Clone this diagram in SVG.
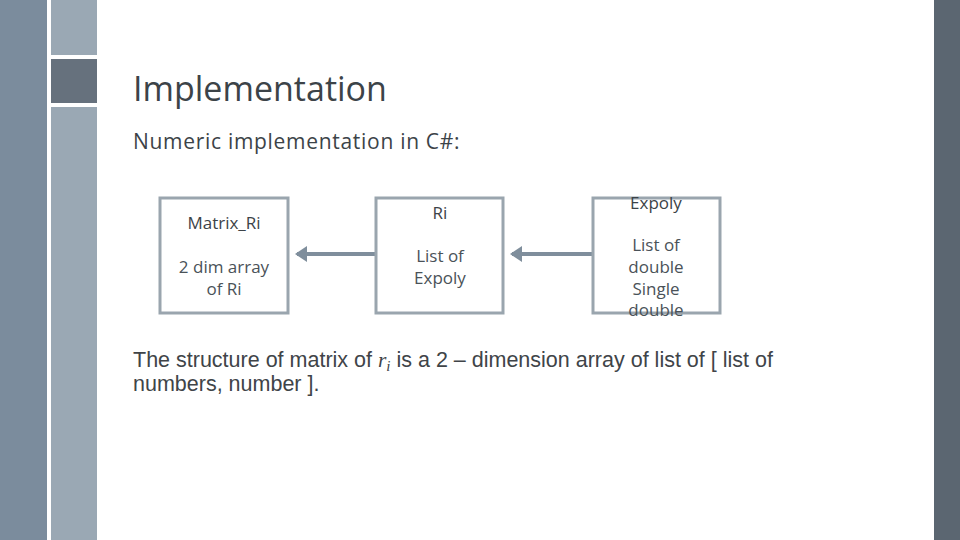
<svg xmlns="http://www.w3.org/2000/svg" width="960" height="540" viewBox="0 0 960 540">
<style>
.t{font-family:"Open Sans","Liberation Sans",sans-serif;fill:#3c4348}
.box{fill:#fff;stroke:#9aa5ae;stroke-width:3}
.lbl{font-family:"Open Sans","Liberation Sans",sans-serif;font-size:17px;fill:#4a5258;text-anchor:middle}
.c{stroke:#7f8e9c;stroke-width:4;fill:none;marker-end:url(#ah)}
</style>
<defs><marker id="ah" markerWidth="4" markerHeight="4" refX="2.5" refY="2" orient="auto"><path d="M0,0L3,2L0,4Z" fill="#7f8e9c"/></marker></defs>
<rect width="960" height="540" fill="#fff"/>
<rect x="0" y="0" width="47" height="540" fill="#7b8c9d"/>
<rect x="51" y="0" width="46" height="55" fill="#9aa8b4"/>
<rect x="51" y="59" width="46" height="44" fill="#66717d"/>
<rect x="51" y="107" width="46" height="433" fill="#9aa8b4"/>
<rect x="934" y="0" width="26" height="540" fill="#5b6671"/>
<text class="t" x="133" y="101" font-size="34">Implementation</text>
<text class="t" x="133" y="149" font-size="21" letter-spacing="0.7">Numeric  implementation  in  C#:</text>
<g id="connectors">
<line class="c" x1="376" y1="254" x2="297" y2="254"/>
<line class="c" x1="593" y1="254" x2="512" y2="254"/>
</g>
<g id="matrix">
<rect class="box" x="160" y="198" width="128" height="115"/>
<text class="lbl" x="224" y="229" style="fill:#3c4348">Matrix_Ri</text>
<text class="lbl" x="224" y="273">2  dim  array</text>
<text class="lbl" x="224" y="295">of Ri</text>
</g>
<g id="ri">
<rect class="box" x="376" y="198" width="127" height="115"/>
<text class="lbl" x="440" y="219" style="fill:#3c4348">Ri</text>
<text class="lbl" x="440" y="262">List  of</text>
<text class="lbl" x="440" y="284">Expoly</text>
</g>
<g id="expoly">
<rect class="box" x="593" y="198" width="127" height="115"/>
<text class="lbl" x="656" y="209" style="fill:#3c4348">Expoly</text>
<text class="lbl" x="656" y="251">List  of</text>
<text class="lbl" x="656" y="273">double</text>
<text class="lbl" x="656" y="295">Single</text>
<text class="lbl" x="656" y="316">double</text>
</g>
<text x="133" y="367" font-family="Liberation Sans,Arial,sans-serif" font-size="21.5" fill="#404448">The structure of matrix of <tspan font-family="Liberation Serif,serif" font-style="italic">r</tspan><tspan font-family="Liberation Serif,serif" font-style="italic" font-size="15" dy="4">i</tspan><tspan dy="-4"> is a 2 – dimension array of list of [ list of</tspan></text>
<text x="133" y="391" font-family="Liberation Sans,Arial,sans-serif" font-size="21.5" fill="#404448">numbers, number ].</text>
</svg>
